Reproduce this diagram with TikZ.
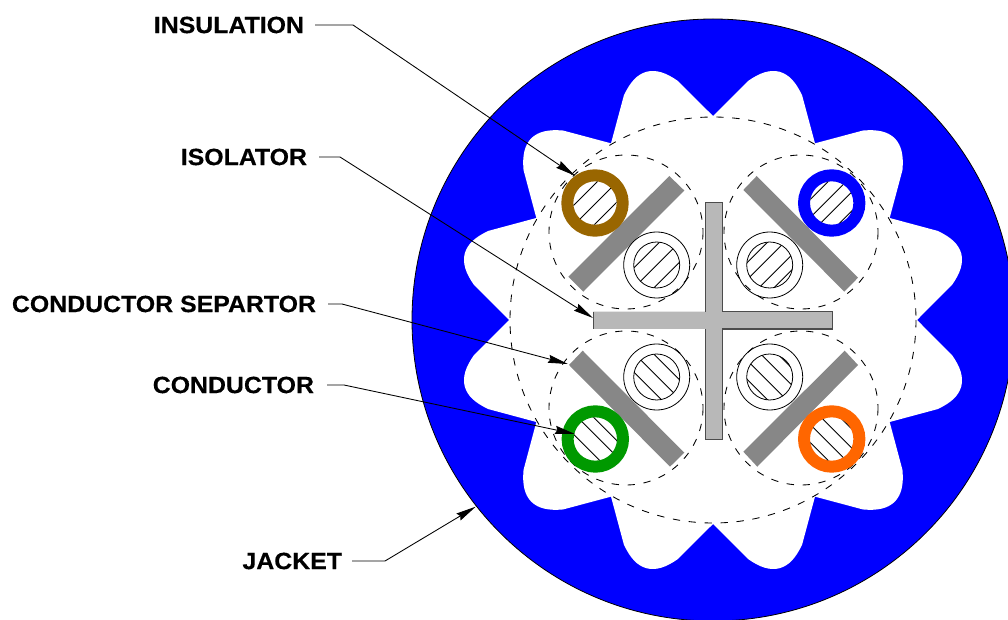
\documentclass[tikz,border=0pt]{standalone}
\usepackage{fontspec}
\setmainfont{Liberation Sans}[FakeStretch=1.06,BoldFeatures={FakeBold=0.4}]
\usetikzlibrary{arrows.meta,calc}
\definecolor{jacketblue}{HTML}{0000FF}
\definecolor{barcol}{HTML}{878787}
\definecolor{crosscol}{HTML}{B8B8B8}
\definecolor{ringbrown}{HTML}{996600}
\definecolor{ringgreen}{HTML}{009900}
\definecolor{ringorange}{HTML}{FF6600}
\tikzset{
  labeltext/.style={font=\bfseries\fontsize{17.6}{20}\selectfont, inner sep=0pt, outer sep=0pt},
  leader/.style={draw=black, line width=0.65pt, -{Stealth[length=15pt,width=6pt,inset=1.5pt]}},
  dashcirc/.style={draw=black, line width=0.65pt, dash pattern=on 5.5pt off 6.5pt},
  thin line/.style={draw=black, line width=0.6pt},
}
\newcommand{\hatchdisc}[3]{%
  \begin{scope}
    \clip (#1) circle (#2);
    \foreach \o in {#3} {
      \draw[thin line] ($(#1)+(\o/2,\o/2)+(40,-40)$) -- ($(#1)+(\o/2,\o/2)+(-40,40)$);
    }
  \end{scope}}
\newcommand{\hatchback}[3]{%
  \begin{scope}
    \clip (#1) circle (#2);
    \foreach \o in {#3} {
      \draw[thin line] ($(#1)+(\o/2,-\o/2)+(40,40)$) -- ($(#1)+(\o/2,-\o/2)+(-40,-40)$);
    }
  \end{scope}}
\begin{document}
\begin{tikzpicture}[x=0.75pt,y=-0.75pt]
\useasboundingbox (0,0) rectangle (1008,620);
\begin{scope}
\clip (0,0) rectangle (1008,620);
% jacket
\fill[jacketblue] (713,320) circle (301);
\draw[line width=0.6pt,black] (713,320) circle (301);
% star-shaped interior
\begin{scope}[shift={(713,320)},y=0.75pt]
\fill[white] (90:204)
  \foreach \a in {75,45,...,-255} {
    -- ({\a+6.65}:241.6)
    .. controls ({\a+4.2}:252) and ({\a+2.2}:257) .. (\a:257)
    .. controls ({\a-2.2}:257) and ({\a-4.2}:252) .. ({\a-6.65}:241.6)
    -- ({\a-15}:204)
  } -- cycle;
\end{scope}
\end{scope}
% dashed circles
\draw[dashcirc] (713,320) circle (203);
\coordinate (ul) at (626,232);
\coordinate (ur) at (801,232);
\coordinate (ll) at (626,408);
\coordinate (lr) at (801,408);
\foreach \c in {ul,ur,ll,lr} \draw[dashcirc] (\c) circle (77);
% separators
\fill[barcol] (669.3,176) -- (684.3,190.5) -- (583.3,291.7) -- (568.3,276.7) -- cycle;
\fill[barcol] (756.7,176) -- (743.3,190) -- (844.3,291.7) -- (858,277.7) -- cycle;
\fill[barcol] (582.7,350.7) -- (569,365) -- (670,466.7) -- (684.3,452.7) -- cycle;
\fill[barcol] (844.7,350.7) -- (858,365) -- (757.3,466.7) -- (743.3,451.7) -- cycle;
% cross
\fill[crosscol] (705.5,202.3) -- (722.3,202.3) -- (722.3,311.7) -- (832.5,311.7) -- (832.5,329) -- (722.3,329) -- (722.3,439.3) -- (705.5,439.3) -- (705.5,329) -- (593.3,329) -- (593.3,311.7) -- (705.5,311.7) -- cycle;
\draw[line width=0.8pt,black!70] (705.5,311.7) -- (705.5,202.3) -- (722.3,202.3) -- (722.3,311.7) -- (832.5,311.7) -- (832.5,329) -- (722.3,329) -- (722.3,439.3) -- (705.5,439.3) -- (705.5,329);
\draw[line width=0.8pt,black!70] (593.3,311.7) -- (593.3,329);
% coloured conductors
\coordinate (c1) at (595,203);
\coordinate (c2) at (831.7,203);
\coordinate (c3) at (595.3,439);
\coordinate (c4) at (831.7,439);
\draw[ringbrown,line width=9pt,fill=white] (c1) circle (27.7);
\draw[jacketblue,line width=9pt,fill=white] (c2) circle (27.7);
\draw[ringgreen,line width=9pt,fill=white] (c3) circle (27.7);
\draw[ringorange,line width=9pt,fill=white] (c4) circle (27.7);
\hatchdisc{c1}{21.7}{-19,1,21}
\hatchdisc{c2}{21.7}{-25,-7,9,28}
\hatchback{c3}{21.7}{-17,4,20}
\hatchback{c4}{21.7}{-25,-7,11,30}
% plain conductors
\coordinate (p1) at (656.7,265);
\coordinate (p2) at (769.7,265);
\coordinate (p3) at (656.7,377);
\coordinate (p4) at (769.7,377);
\foreach \c in {p1,p2,p3,p4} {
  \draw[thin line] (\c) circle (33);
  \draw[thin line] (\c) circle (23);
}
\hatchdisc{p1}{23}{-20,0,20}
\hatchdisc{p2}{23}{-25,-8,12,27}
\hatchback{p3}{23}{-18,1,20}
\hatchback{p4}{23}{-25,-6,14,31}
% labels
\node[labeltext,anchor=east] (insulation) at (304,25) {INSULATION};
\node[labeltext,anchor=east] (isolator) at (307,157) {ISOLATOR};
\node[labeltext,anchor=east] (separator) at (316,304) {CONDUCTOR SEPARTOR};
\node[labeltext,anchor=east] (conductor) at (314,385) {CONDUCTOR};
\node[labeltext,anchor=east] (jacket) at (342,561) {JACKET};
% leader ends
\coordinate (tipA) at (575,175.7);
\coordinate (tipB) at (593,318);
\coordinate (tipC) at (568,364);
\coordinate (tipD) at (575,434);
\coordinate (tipE) at (475.7,506.7);
\draw[leader] ($(insulation.east)+(11,0)$) -- ++(38,0) -- (tipA);
\draw[leader] ($(isolator.east)+(12,0)$) -- ++(21,0) -- (tipB);
\draw[leader] ($(separator.east)+(12,0)$) -- ++(14,0) -- (tipC);
\draw[leader] ($(conductor.east)+(13,0)$) -- ++(17,0) -- (tipD);
\draw[leader] ($(jacket.east)+(10,0)$) -- ++(33,0) -- (tipE);
\end{tikzpicture}
\end{document}
